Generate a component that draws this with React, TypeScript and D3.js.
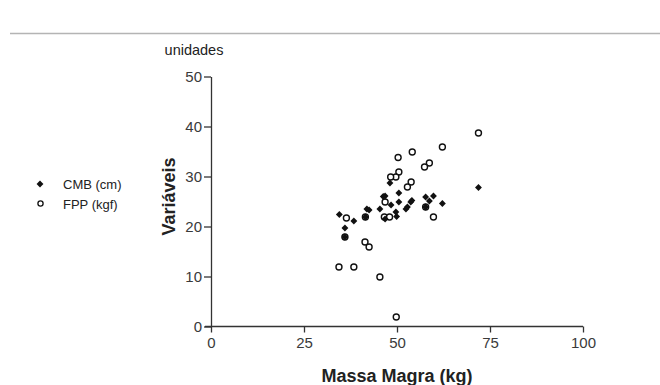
import React, { useEffect, useRef } from 'react';
import * as d3 from 'd3';

// CMB (cm) - filled diamonds
const cmbMassa = [71.9, 48.1, 46.8, 50.5, 50.5, 48.4, 45.4, 41.9, 42.5, 34.5, 38.4, 36.0, 49.7, 49.9, 46.8, 52.4, 52.8, 53.7, 54.0, 57.7, 59.8, 58.7, 62.2, 57.7, 36.0, 41.5, 46.3];
const cmbValor = [27.8, 28.7, 26.1, 26.7, 24.9, 24.3, 23.5, 23.5, 23.3, 22.4, 21.1, 19.7, 22.9, 22.0, 21.5, 23.5, 23.9, 24.9, 25.2, 25.9, 26.1, 25.1, 24.6, 23.9, 17.9, 21.9, 26.0];

// FPP (kgf) - open circles
const fppMassa = [71.9, 62.2, 54.1, 50.3, 58.7, 57.4, 50.5, 49.7, 48.3, 53.8, 52.8, 46.8, 36.4, 41.5, 46.6, 48.0, 57.7, 59.8, 36.0, 41.4, 42.5, 34.4, 38.4, 45.4, 49.8];
const fppValor = [38.7, 35.9, 34.9, 33.8, 32.7, 31.9, 30.9, 29.9, 29.9, 28.9, 27.9, 24.9, 21.7, 21.9, 21.9, 21.9, 23.9, 21.9, 17.9, 16.9, 15.9, 11.9, 11.9, 9.9, 1.9];

const xTicks = [0, 25, 50, 75, 100];
const yTicks = [0, 10, 20, 30, 40, 50];
const legendLabels = ['CMB (cm)', 'FPP (kgf)'];

const W = 660;
const H = 385;
const FONT = "'Liberation Sans', Arial, sans-serif";

export default function App() {
    const svgRef = useRef<SVGSVGElement | null>(null);

    useEffect(() => {
        const svg = d3.select(svgRef.current);
        svg.selectAll('*').remove();

        const x = d3.scaleLinear().domain([0, 100]).range([211, 583]);
        const y = d3.scaleLinear().domain([0, 50]).range([326.5, 76.5]);

        // top rule
        svg.append('line')
            .attr('x1', 10).attr('x2', W)
            .attr('y1', 33.5).attr('y2', 33.5)
            .attr('stroke', '#b4b4b4').attr('stroke-width', 1.5);

        const yAxis = svg.append('g')
            .attr('transform', `translate(${x(0)},0)`)
            .call(d3.axisLeft(y).tickValues(yTicks).tickSize(7).tickPadding(2).tickSizeOuter(0));
        const xAxis = svg.append('g')
            .attr('transform', `translate(0,${y(0)})`)
            .call(d3.axisBottom(x).tickValues(xTicks).tickSize(6).tickPadding(5).tickSizeOuter(0));

        [xAxis, yAxis].forEach(g => {
            g.select('.domain').attr('stroke', '#333').attr('stroke-width', 1.3);
            g.selectAll('.tick line').attr('stroke', '#333').attr('stroke-width', 1.3);
            g.selectAll('.tick text')
                .attr('fill', '#3a3a3a')
                .style('font-family', FONT)
                .style('font-size', '15px');
        });
        // extend x axis left slightly past y axis
        xAxis.select('.domain').attr('d', `M${x(0) - 6},0H${x(100)}`);

        // axis titles
        svg.append('text')
            .attr('x', 194).attr('y', 55)
            .attr('text-anchor', 'middle')
            .style('font-family', FONT).style('font-size', '14.5px')
            .attr('fill', '#222')
            .text('unidades');

        svg.append('text')
            .attr('transform', `translate(175,${y(25) - 5}) rotate(-90)`)
            .attr('text-anchor', 'middle')
            .style('font-family', FONT).style('font-size', '18px').style('font-weight', 'bold')
            .attr('fill', '#222')
            .text('Variáveis');

        svg.append('text')
            .attr('x', x(50)).attr('y', 382)
            .attr('text-anchor', 'middle')
            .style('font-family', FONT).style('font-size', '18px').style('font-weight', 'bold')
            .attr('fill', '#222')
            .text('Massa Magra (kg)');

        const diamond = d3.symbol().type(d3.symbolDiamond2).size(30);

        // FPP circles
        svg.append('g').selectAll('circle')
            .data(fppMassa.map((m, i) => [m, fppValor[i]]))
            .join('circle')
            .attr('cx', d => x(d[0]))
            .attr('cy', d => y(d[1]))
            .attr('r', 3)
            .attr('fill', 'white')
            .attr('stroke', '#111')
            .attr('stroke-width', 1.4);

        // CMB diamonds
        svg.append('g').selectAll('path')
            .data(cmbMassa.map((m, i) => [m, cmbValor[i]]))
            .join('path')
            .attr('d', diamond)
            .attr('transform', d => `translate(${x(d[0])},${y(d[1])})`)
            .attr('fill', '#111');

        // legend
        const legend = svg.append('g');
        legend.append('path')
            .attr('d', diamond)
            .attr('transform', 'translate(40,184)')
            .attr('fill', '#111');
        legend.append('circle')
            .attr('cx', 40.5).attr('cy', 203.5).attr('r', 2.6)
            .attr('fill', 'white').attr('stroke', '#111').attr('stroke-width', 1.3);
        legendLabels.forEach((t, i) => {
            legend.append('text')
                .attr('x', 63).attr('y', 189 + i * 20)
                .style('font-family', FONT).style('font-size', '13px')
                .attr('fill', '#222')
                .text(t);
        });
    }, []);

    return (
        <svg ref={svgRef} width={W} height={H}
             style={{ position: 'absolute', left: 0, top: 0, background: 'white' }} />
    );
}
